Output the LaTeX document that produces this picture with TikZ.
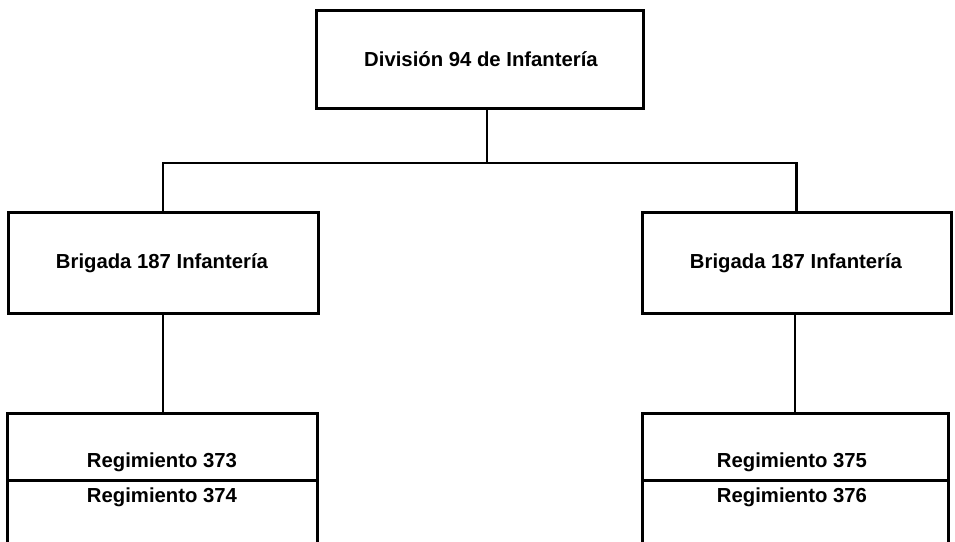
\documentclass[tikz,border=0pt]{standalone}
\usepackage{fontspec}
\setmainfont{Liberation Sans}
\begin{document}
\begin{tikzpicture}[x=1pt,y=-1pt,
  box/.style={draw, line width=3pt, rectangle, inner sep=0pt, outer sep=0pt},
  side/.style={line width=3pt},
  txt/.style={font=\bfseries\fontsize{20.3}{24}\selectfont, inner sep=0pt},
  conn/.style={line width=2.4pt}]
\useasboundingbox (0,0) rectangle (955,541);
\fill[white] (0,0) rectangle (955,541);
% top
\node[box, minimum width=327pt, minimum height=98pt] (div) at (479.5,59) {};
\node[txt] (tdiv) at (481,59) {División 94 de Infantería};
% brigades
\node[box, minimum width=310pt, minimum height=101pt] (b1) at (163,262.5) {};
\node[txt] (tb1) at (162,263) {Brigada 187 Infantería};
\node[box, minimum width=309pt, minimum height=101pt] (b2) at (796.5,262.5) {};
\node[txt] (tb2) at (796,263) {Brigada 187 Infantería};
% regiments (upper halves)
\node[box, minimum width=310pt, minimum height=67pt] (r1) at (162,446.5) {};
\node[box, minimum width=306pt, minimum height=67pt] (r3) at (795,446.5) {};
% lower halves (open at bottom)
\coordinate (r2bl) at (7,545);
\coordinate (r2br) at (317,545);
\coordinate (r4bl) at (642,545);
\coordinate (r4br) at (948,545);
\draw[side] (r1.south west) -- (r2bl);
\draw[side] (r1.south east) -- (r2br);
\draw[side] (r3.south west) -- (r4bl);
\draw[side] (r3.south east) -- (r4br);
\node[txt] (t373) at (162,462) {Regimiento 373};
\node[txt] (t374) at (162,497) {Regimiento 374};
\node[txt] (t375) at (792,462) {Regimiento 375};
\node[txt] (t376) at (792,497) {Regimiento 376};
% connectors
\coordinate (bus) at (487,163);
\draw[conn] (div.south -| bus) -- (bus);
\draw[conn] (b1.north) |- (bus) -| (b2.north);
\draw[conn] (b1.south) -- (b1.south |- r1.north);
\draw[conn] (b2.south -| r3.north) -- (r3.north);
\end{tikzpicture}
\end{document}
